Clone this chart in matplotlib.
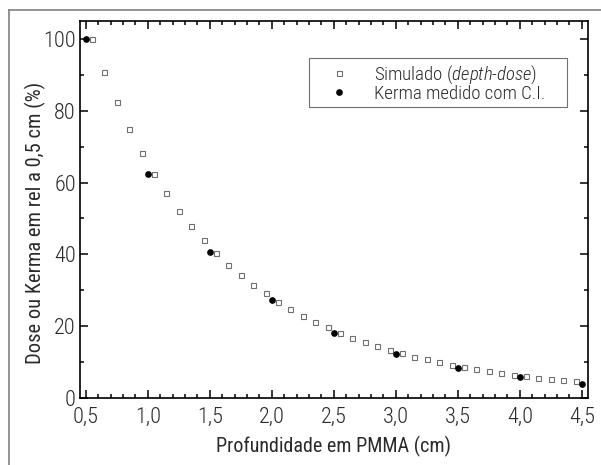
import numpy as np
import matplotlib
matplotlib.use("Agg")
import matplotlib.pyplot as plt
from matplotlib.lines import Line2D
from matplotlib.patches import Rectangle
from matplotlib.ticker import MultipleLocator, FuncFormatter

# DATA

sim_depth = [0.55, 0.65, 0.75, 0.85, 0.95, 1.05, 1.15, 1.25, 1.35, 1.45,
             1.55, 1.65, 1.75, 1.85, 1.95, 2.05, 2.15, 2.25, 2.35, 2.45,
             2.55, 2.65, 2.75, 2.85, 2.95, 3.05, 3.15, 3.25, 3.35, 3.45,
             3.55, 3.65, 3.75, 3.85, 3.95, 4.05, 4.15, 4.25, 4.35, 4.45]
sim_dose = [100.0, 90.7, 82.3, 74.8, 68.2, 62.3, 57.0, 52.0, 47.9, 44.0,
            40.5, 37.2, 34.3, 31.6, 29.2, 26.9, 24.9, 23.0, 21.3, 19.7,
            18.2, 16.9, 15.7, 14.5, 13.4, 12.6, 11.6, 10.8, 10.1, 9.3,
            8.7, 8.2, 7.6, 7.1, 6.4, 6.1, 5.7, 5.4, 5.0, 4.7]

kerma_depth = [0.5, 1.0, 1.5, 2.0, 2.5, 3.0, 3.5, 4.0, 4.5]
kerma_val = [100.0, 62.4, 40.7, 27.2, 18.2, 12.3, 8.5, 5.9, 4.0]

FONT = ['Roboto Condensed', 'DejaVu Sans']
plt.rcParams['font.family'] = FONT
plt.rcParams['font.weight'] = 'light'
plt.rcParams['mathtext.fontset'] = 'custom'
plt.rcParams['mathtext.it'] = 'Roboto Condensed:italic:light'
plt.rcParams['mathtext.rm'] = 'Roboto Condensed:light'
TXT = '#2a2a2a'

fig = plt.figure(figsize=(6.01, 4.65), dpi=100)
ax = fig.add_axes([0.1331, 0.1434, 0.8448, 0.8114])

ax.plot(sim_depth, sim_dose, linestyle='none', marker='s', markersize=3.6,
        markerfacecolor='white', markeredgecolor='#707070', markeredgewidth=0.8,
        label=r'Simulado ($\it{depth}$-$\it{dose}$)')
ax.plot(kerma_depth, kerma_val, linestyle='none', marker='o', markersize=3.8,
        color='black', label='Kerma medido com C.I.')

ax.set_xlim(0.454, 4.548)
ax.set_ylim(0, 104.9)

ax.xaxis.set_major_locator(MultipleLocator(0.5))
ax.xaxis.set_minor_locator(MultipleLocator(0.1))
ax.yaxis.set_major_locator(MultipleLocator(20))
ax.yaxis.set_minor_locator(MultipleLocator(10))
ax.xaxis.set_major_formatter(FuncFormatter(lambda v, p: f"{v:.1f}".replace('.', ',')))

ax.tick_params(which='both', direction='in', top=True, right=True,
               labelsize=16, labelcolor=TXT, width=1.1, color='black')
ax.tick_params(which='major', length=5.5)
ax.tick_params(which='minor', length=3)
ax.tick_params(axis='x', pad=6)
ax.tick_params(axis='y', pad=3)
for s in ax.spines.values():
    s.set_linewidth(1.2)

ax.set_xlabel('Profundidade em PMMA (cm)', fontsize=14.5, color=TXT, labelpad=6)
ax.set_ylabel('Dose ou Kerma em rel a 0,5 cm (%)', fontsize=14.8, color=TXT)
ax.yaxis.set_label_coords(-0.067, 0.465)

# legend box drawn separately, entries placed inside
ax.add_patch(Rectangle((0.4517, 0.7729), 0.9598 - 0.4517, 0.9011 - 0.7729,
                       transform=ax.transAxes, facecolor='white', edgecolor='#707070',
                       linewidth=0.8, zorder=4))
leg = ax.legend(loc='upper left', bbox_to_anchor=(0.4909, 0.8887), fontsize=13.5,
                frameon=False, handlelength=1.0, handletextpad=1.4, borderpad=0,
                labelspacing=-0.05, borderaxespad=0)
leg.set_zorder(5)
for t in leg.get_texts():
    t.set_color(TXT)

# outer frame lines
fig.add_artist(Line2D([9 / 601, 9 / 601], [0, 1 - 10 / 465], color='#808080', lw=1.2,
                      transform=fig.transFigure))
fig.add_artist(Line2D([9 / 601, 1], [1 - 10 / 465, 1 - 10 / 465], color='#808080', lw=1.2,
                      transform=fig.transFigure))

fig.savefig('out.png', dpi=100)
